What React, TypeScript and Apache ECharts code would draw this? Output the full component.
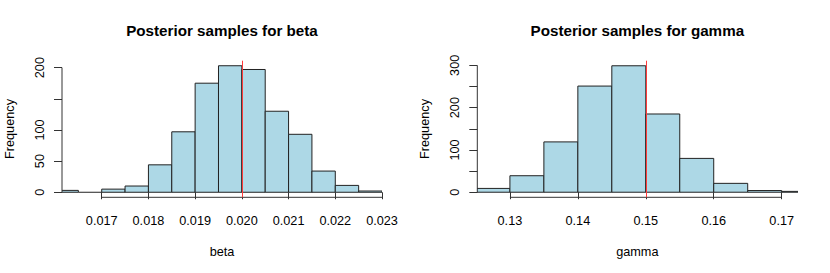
import React, { useEffect, useRef } from "react";
import * as echarts from "echarts";

// ---- data ----
const betaBreaks = [0.016, 0.0165, 0.017, 0.0175, 0.018, 0.0185, 0.019, 0.0195, 0.02, 0.0205, 0.021, 0.0215, 0.022, 0.0225, 0.023];
const betaCounts = [3, 0, 5, 10, 44, 97, 175, 203, 197, 130, 93, 34, 11, 2];
const betaTrue = 0.02;
const betaXTicks = [0.017, 0.018, 0.019, 0.02, 0.021, 0.022, 0.023];
const betaXLabels = ["0.017", "0.018", "0.019", "0.020", "0.021", "0.022", "0.023"];
const betaYTicks = [0, 50, 100, 150, 200];
const betaYLabels = [0, 50, 100, 200];

const gammaBreaks = [0.125, 0.13, 0.135, 0.14, 0.145, 0.15, 0.155, 0.16, 0.165, 0.17, 0.175];
const gammaCounts = [9, 39, 119, 251, 299, 185, 80, 21, 4, 2];
const gammaTrue = 0.15;
const gammaXTicks = [0.13, 0.14, 0.15, 0.16, 0.17];
const gammaXLabels = ["0.13", "0.14", "0.15", "0.16", "0.17"];
const gammaYTicks = [0, 50, 100, 150, 200, 250, 300];
const gammaYLabels = [0, 100, 200, 300];

const FONT = "'Liberation Sans', Arial, Helvetica, sans-serif";
const FILL = "#add8e6";
const EDGE = "#222";
const AXIS = "#333";
const RED = "#ff3b3b";

function histData(breaks: number[], counts: number[]) {
  return counts.map((c, i) => [breaks[i], breaks[i + 1], c]);
}

function barRender(params: any, api: any) {
  const x0 = api.value(0);
  const x1 = api.value(1);
  const c = api.value(2);
  const p0 = api.coord([x0, c]);
  const p1 = api.coord([x1, 0]);
  if (c === 0) {
    return {
      type: "line",
      shape: { x1: p0[0], y1: p1[1], x2: p1[0], y2: p1[1] },
      style: { stroke: EDGE, lineWidth: 1 },
    };
  }
  return {
    type: "rect",
    shape: { x: p0[0], y: p0[1], width: p1[0] - p0[0], height: p1[1] - p0[1] },
    style: { fill: FILL, stroke: EDGE, lineWidth: 1 },
  };
}

function axisLineRender(xTicks: number[], yTicks: number[], xMin: number, yMin: number) {
  return (params: any, api: any) => {
    const a = api.coord([xTicks[0], yMin]);
    const b = api.coord([xTicks[xTicks.length - 1], yMin]);
    const c = api.coord([xMin, yTicks[0]]);
    const d = api.coord([xMin, yTicks[yTicks.length - 1]]);
    return {
      type: "group",
      children: [
        { type: "line", shape: { x1: a[0], y1: a[1], x2: b[0], y2: b[1] }, style: { stroke: AXIS, lineWidth: 1 } },
        { type: "line", shape: { x1: c[0], y1: c[1], x2: d[0], y2: d[1] }, style: { stroke: AXIS, lineWidth: 1 } },
      ],
    };
  };
}

const ranges = [
  { xMin: 0.01615, xMax: 0.023, yMin: -8.1, yMax: 211.1 },
  { xMin: 0.1252, xMax: 0.1723, yMin: -12, yMax: 311 },
];

function xAxisCfg(idx: number, ticks: number[], labels: string[]) {
  return {
    type: "value",
    gridIndex: idx,
    min: ranges[idx].xMin,
    max: ranges[idx].xMax,
    splitLine: { show: false },
    axisLine: { show: false },
    axisTick: { show: true, length: 7, customValues: ticks, lineStyle: { color: AXIS, width: 1 } },
    axisLabel: {
      customValues: ticks,
      formatter: (v: number) => {
        const i = ticks.findIndex((t) => Math.abs(t - v) < 1e-9);
        return i >= 0 ? labels[i] : "";
      },
      fontSize: 12.7,
      fontFamily: FONT,
      color: "#000",
      margin: 17,
    },
  };
}

function yAxisCfg(idx: number, ticks: number[], labels: number[]) {
  return {
    type: "value",
    gridIndex: idx,
    min: ranges[idx].yMin,
    max: ranges[idx].yMax,
    splitLine: { show: false },
    axisLine: { show: false },
    axisTick: { show: true, length: 8, customValues: ticks, lineStyle: { color: AXIS, width: 1 } },
    axisLabel: {
      customValues: labels,
      rotate: 90,
      fontSize: 12.7,
      fontFamily: FONT,
      color: "#000",
      margin: 16,
    },
  };
}

function textEl(text: string, x: number, y: number, opts: any = {}) {
  return {
    type: "text",
    x,
    y,
    rotation: opts.rotation || 0,
    style: {
      text,
      fontSize: opts.fontSize || 12.7,
      fontWeight: opts.fontWeight || "normal",
      fontFamily: FONT,
      fill: "#000",
      align: "center",
      verticalAlign: "middle",
    },
  };
}

export default function App() {
  const ref = useRef<HTMLDivElement>(null);
  useEffect(() => {
    if (!ref.current) return;
    const chart = echarts.init(ref.current, null, { renderer: "svg" });
    const option: any = {
      animation: false,
      grid: [
        { left: 62, top: 60.7, width: 320, height: 136.6 },
        { left: 477.3, top: 60.7, width: 320, height: 136.6 },
      ],
      xAxis: [xAxisCfg(0, betaXTicks, betaXLabels), xAxisCfg(1, gammaXTicks, gammaXLabels)],
      yAxis: [yAxisCfg(0, betaYTicks, betaYLabels), yAxisCfg(1, gammaYTicks, gammaYLabels)],
      series: [
        {
          type: "custom",
          xAxisIndex: 0,
          yAxisIndex: 0,
          clip: true,
          renderItem: barRender,
          data: histData(betaBreaks, betaCounts),
          markLine: {
            silent: true,
            symbol: "none",
            label: { show: false },
            lineStyle: { color: RED, width: 1, type: "solid" },
            data: [{ xAxis: betaTrue }],
          },
        },
        {
          type: "custom",
          xAxisIndex: 1,
          yAxisIndex: 1,
          clip: true,
          renderItem: barRender,
          data: histData(gammaBreaks, gammaCounts),
          markLine: {
            silent: true,
            symbol: "none",
            label: { show: false },
            lineStyle: { color: RED, width: 1, type: "solid" },
            data: [{ xAxis: gammaTrue }],
          },
        },
        {
          type: "custom",
          xAxisIndex: 0,
          yAxisIndex: 0,
          clip: false,
          silent: true,
          renderItem: axisLineRender(betaXTicks, betaYTicks, ranges[0].xMin, ranges[0].yMin),
          data: [[0]],
        },
        {
          type: "custom",
          xAxisIndex: 1,
          yAxisIndex: 1,
          clip: false,
          silent: true,
          renderItem: axisLineRender(gammaXTicks, gammaYTicks, ranges[1].xMin, ranges[1].yMin),
          data: [[0]],
        },
      ],
      graphic: [
        textEl("Posterior samples for beta", 222, 30.7, { fontSize: 15.2, fontWeight: "bold" }),
        textEl("Posterior samples for gamma", 637.3, 30.7, { fontSize: 15.2, fontWeight: "bold" }),
        textEl("beta", 222, 251.7),
        textEl("gamma", 637.3, 251.7),
        textEl("Frequency", 10, 129, { rotation: Math.PI / 2 }),
        textEl("Frequency", 425, 129, { rotation: Math.PI / 2 }),
      ],
    };
    chart.setOption(option);
    return () => chart.dispose();
  }, []);
  return (
    <div
      ref={ref}
      style={{ position: "fixed", left: 0, top: 0, width: 830, height: 273, background: "#fff" }}
    />
  );
}
